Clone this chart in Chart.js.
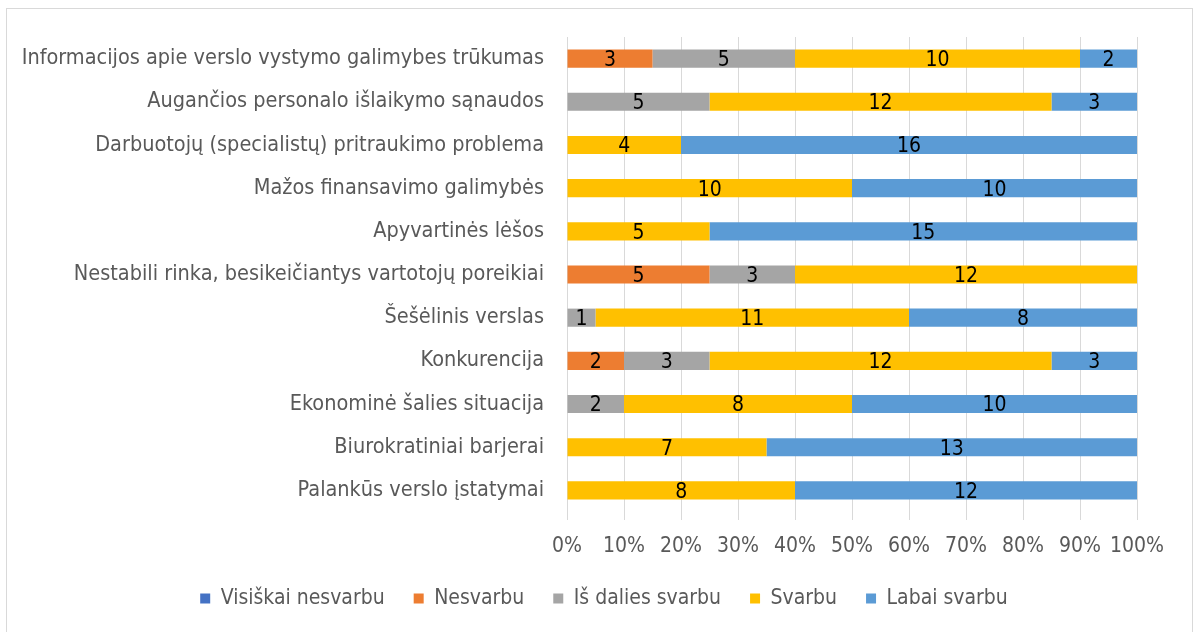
<!DOCTYPE html>
<html>
<head>
<meta charset="utf-8">
<script src="https://cdn.jsdelivr.net/npm/chart.js@4"></script>
<style>
  html, body { margin: 0; padding: 0; background: #fff; }
  #wrap { position: relative; width: 1193px; height: 632px; overflow: hidden; }
  #frame { position: absolute; left: 6px; top: 8px; width: 1185px; height: 640px; border: 1px solid #d9d9d9; }
  canvas { position: absolute; left: 0; top: 0; }
</style>
</head>
<body>
<div id="wrap">
  <div id="frame"></div>
  <canvas id="chart" width="1193" height="632"></canvas>
</div>
<script>
const categories = [
  'Informacijos apie verslo vystymo galimybes trūkumas',
  'Augančios personalo išlaikymo sąnaudos',
  'Darbuotojų (specialistų) pritraukimo problema',
  'Mažos finansavimo galimybės',
  'Apyvartinės lėšos',
  'Nestabili rinka, besikeičiantys vartotojų poreikiai',
  'Šešėlinis verslas',
  'Konkurencija',
  'Ekonominė šalies situacija',
  'Biurokratiniai barjerai',
  'Palankūs verslo įstatymai'
];

// answer counts per category
const visiskaiNesvarbu = [0, 0, 0, 0, 0, 0, 0, 0, 0, 0, 0];
const nesvarbu         = [3, 0, 0, 0, 0, 5, 0, 2, 0, 0, 0];
const isDaliesSvarbu   = [5, 5, 0, 0, 0, 3, 1, 3, 2, 0, 0];
const svarbu           = [10, 12, 4, 10, 5, 12, 11, 12, 8, 7, 8];
const labaiSvarbu      = [2, 3, 16, 10, 15, 0, 8, 3, 10, 13, 12];

const seriesNames = ['Visiškai nesvarbu', 'Nesvarbu', 'Iš dalies svarbu', 'Svarbu', 'Labai svarbu'];
const seriesColors = ['#4472C4', '#ED7D31', '#A5A5A5', '#FFC000', '#5B9BD5'];
const counts = [visiskaiNesvarbu, nesvarbu, isDaliesSvarbu, svarbu, labaiSvarbu];

const totals = categories.map((c, i) => counts.reduce((s, arr) => s + arr[i], 0));

const FONT = '"Liberation Sans Narrow", "DejaVu Sans Condensed", "Open Sans", sans-serif';

const datasets = counts.map((arr, k) => ({
  label: seriesNames[k],
  data: arr.map((v, i) => v / totals[i] * 100),
  raw: arr,
  backgroundColor: seriesColors[k],
  borderWidth: 0,
  categoryPercentage: 1,
  barPercentage: 0.42
}));

// counts written in the middle of each segment
const segmentLabels = {
  id: 'segmentLabels',
  afterDatasetsDraw(chart) {
    const ctx = chart.ctx;
    ctx.save();
    ctx.font = '21px ' + FONT;
    ctx.fillStyle = '#000';
    ctx.textAlign = 'center';
    ctx.textBaseline = 'middle';
    chart.data.datasets.forEach((ds, di) => {
      const meta = chart.getDatasetMeta(di);
      meta.data.forEach((bar, i) => {
        const v = ds.raw[i];
        if (!v) return;
        const x = (bar.x + bar.base) / 2;
        ctx.fillText(String(v), x, bar.y + 2);
      });
    });
    ctx.restore();
  }
};

// legend sits a bit right of the canvas middle in the original
const legendShift = {
  id: 'legendShift',
  afterLayout(chart) {
    chart.legend.left = 71;
  }
};

const config = {
  type: 'bar',
  data: { labels: categories, datasets: datasets },
  options: {
    indexAxis: 'y',
    responsive: false,
    animation: false,
    layout: { padding: { left: 0, right: 56, top: 37, bottom: 13 } },
    plugins: {
      legend: {
        position: 'bottom',
        labels: {
          boxWidth: 10,
          boxHeight: 10,
          padding: 29,
          color: '#595959',
          font: { family: FONT, size: 21 }
        }
      },
      tooltip: { enabled: false }
    },
    scales: {
      x: {
        stacked: true,
        min: 0,
        max: 100,
        ticks: {
          stepSize: 10,
          autoSkip: false,
          color: '#595959',
          font: { family: FONT, size: 21 },
          padding: 14,
          maxRotation: 0,
          callback: v => v + '%'
        },
        grid: { color: '#d9d9d9', tickLength: 8, tickColor: '#d9d9d9' },
        border: { display: false },
        afterFit: s => { s.height = 47; }
      },
      y: {
        stacked: true,
        ticks: {
          color: '#595959',
          font: { family: FONT, size: 21.5 },
          padding: 23
        },
        grid: { display: false, drawTicks: false },
        border: { display: false },
        afterFit: s => { s.width = 567; }
      }
    }
  },
  plugins: [segmentLabels, legendShift]
};

const myChart = new Chart(document.getElementById('chart'), config);
</script>
</body>
</html>
